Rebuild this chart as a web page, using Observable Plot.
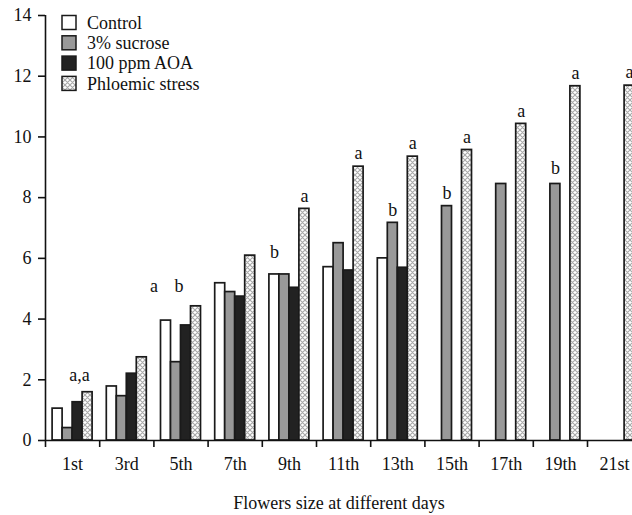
<!DOCTYPE html>
<html>
<head>
<meta charset="utf-8">
<script src="https://cdn.jsdelivr.net/npm/d3@7"></script>
<script src="https://cdn.jsdelivr.net/npm/@observablehq/plot@0.6"></script>
<style>
  html, body { margin: 0; padding: 0; background: white; }
  #chart svg { display: block; }
</style>
</head>
<body>
<div id="chart"></div>
<script>
const days = ["1st","3rd","5th","7th","9th","11th","13th","15th","17th","19th","21st"];
const series = ["Control","3% sucrose","100 ppm AOA","Phloemic stress"];
const control = [1.05, 1.78, 3.95, 5.18, 5.47, 5.71, 6.00, null, null, null, null];
const sucrose = [0.41, 1.46, 2.58, 4.89, 5.47, 6.50, 7.17, 7.72, 8.45, 8.45, null];
const aoa     = [1.26, 2.20, 3.79, 4.74, 5.03, 5.60, 5.69, null, null, null, null];
const phloem  = [1.59, 2.74, 4.42, 6.09, 7.63, 9.02, 9.35, 9.57, 10.43, 11.67, 11.69];
const yTicks = [0, 2, 4, 6, 8, 10, 12, 14];
const xTitle = "Flowers size at different days";
// significance letters: [day, series of the bar it sits over, letter]
const letters = [
  ["1st","Phloemic stress","a,a"],
  ["5th","Control","a"],
  ["5th","100 ppm AOA","b"],
  ["9th","Control","b"],
  ["9th","Phloemic stress","a"],
  ["11th","Phloemic stress","a"],
  ["13th","3% sucrose","b"],
  ["13th","Phloemic stress","a"],
  ["15th","3% sucrose","b"],
  ["15th","Phloemic stress","a"],
  ["17th","Phloemic stress","a"],
  ["19th","3% sucrose","b"],
  ["19th","Phloemic stress","a"],
  ["21st","Phloemic stress","a"]
];

const valuesBySeries = [control, sucrose, aoa, phloem];
const data = [];
days.forEach((d, i) => {
  series.forEach((s, j) => {
    const v = valuesBySeries[j][i];
    if (v != null) data.push({day: d, i, series: s, j, value: v});
  });
});

const pad = 0.131, bw = 0.1845;
const lookup = new Map(data.map(d => [d.day + "|" + d.series, d]));
const lab = letters.map(([day, s, t]) => {
  const b = lookup.get(day + "|" + s);
  return {key: day + "|" + t, x: b.i + pad + (b.j + 0.5) * bw, y: b.value, text: t};
});
const special = new Set(["1st|a,a", "5th|a", "5th|b", "9th|b", "19th|b"]);
const pick = k => lab.filter(d => d.key === k);

const font = "Liberation Serif, Times New Roman, serif";
const fs = 18;
const W = 632, H = 515, L = 45, T = 15, B = 75;
const step = 54.2;

const textOpts = {x: "x", y: "y", text: "text", fontSize: fs, fill: "#111", lineAnchor: "middle", fontFamily: font};

const plot = Plot.plot({
  width: W,
  height: H,
  marginLeft: L,
  marginRight: 0,
  marginTop: T,
  marginBottom: B,
  style: {fontSize: fs + "px", color: "#111", background: "white"},
  x: {type: "linear", domain: [0, days.length], range: [L, L + days.length * step]},
  y: {domain: [0, 14], range: [H - B, T]},
  color: {type: "ordinal", domain: series, range: ["white", "#999999", "#222222", "url(#xhatch)"]},
  marks: [
    Plot.rect(data, {
      x1: d => d.i + pad + d.j * bw,
      x2: d => d.i + pad + (d.j + 1) * bw,
      y1: 0,
      y2: "value",
      fill: "series",
      stroke: "#1a1a1a",
      strokeWidth: 1.7
    }),
    Plot.ruleX([0], {y1: 0, y2: 14, stroke: "#111", strokeWidth: 1.6}),
    Plot.ruleY([0], {stroke: "#111", strokeWidth: 1.6}),
    Plot.axisY({ticks: yTicks, tickSize: 7, tickPadding: 7, label: null, strokeWidth: 1.6, fontSize: fs, fontFamily: font}),
    Plot.axisX({ticks: d3.range(days.length + 1), tickSize: 7, tickFormat: () => "", label: null, strokeWidth: 1.6}),
    Plot.axisX({ticks: days.map((d, i) => i + 0.5), tickSize: 0, tickPadding: 17, tickFormat: v => days[Math.floor(v)], label: null, fontSize: fs, fontFamily: font}),
    Plot.text([xTitle], {frameAnchor: "bottom", dy: 68, fontSize: fs, fill: "#111", fontFamily: font}),
    Plot.text(lab.filter(d => !special.has(d.key)), {...textOpts, dy: -13}),
    Plot.text(pick("1st|a,a"), {...textOpts, dx: -8, dy: -17}),
    Plot.text(pick("5th|a"), {...textOpts, dx: -12, dy: -34}),
    Plot.text(pick("5th|b"), {...textOpts, dx: -7, dy: -39}),
    Plot.text(pick("9th|b"), {...textOpts, dy: -22}),
    Plot.text(pick("19th|b"), {...textOpts, dy: -16})
  ]
});

const svg = d3.select(plot);
const defs = svg.insert("defs", ":first-child");
const pat = defs.append("pattern")
  .attr("id", "xhatch")
  .attr("patternUnits", "userSpaceOnUse")
  .attr("width", 5).attr("height", 5);
pat.append("rect").attr("width", 5).attr("height", 5).attr("fill", "white");
pat.append("path").attr("d", "M0,0L5,5M5,0L0,5M-1,4L1,6M4,-1L6,1").attr("stroke", "#a8a8a8").attr("stroke-width", 1.1);

// legend
const fills = ["white", "#999999", "#222222", "url(#xhatch)"];
const lg = svg.append("g").attr("font-family", font).attr("font-size", fs).attr("text-anchor", "start");
series.forEach((s, k) => {
  const y0 = 15.5 + k * 20.3;
  lg.append("rect").attr("x", 62).attr("y", y0).attr("width", 14).attr("height", 14)
    .attr("fill", fills[k]).attr("stroke", "#1a1a1a").attr("stroke-width", 1.5);
  lg.append("text").attr("x", 87).attr("y", y0 + 7).attr("dy", "0.35em")
    .attr("fill", "#111").text(s);
});

document.getElementById("chart").appendChild(plot);
</script>
</body>
</html>
